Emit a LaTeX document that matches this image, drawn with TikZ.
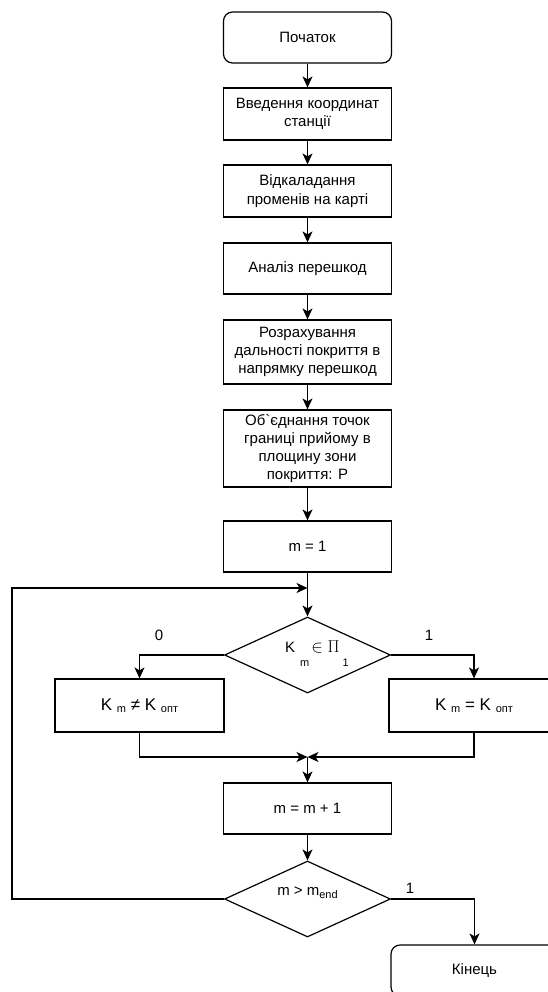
\documentclass[tikz,border=0pt]{standalone}
\usepackage{fontspec}
\setmainfont{Liberation Sans}
\usetikzlibrary{arrows.meta,shapes.geometric}
\tikzset{
  every node/.style={font=\fontsize{15}{18.3}\selectfont, text=black},
  box/.style={draw=black, line width=1.2pt, rectangle, minimum width=168pt, inner sep=0pt, align=center},
  term/.style={box, rounded corners=9pt},
  dec/.style={draw=black, line width=1.2pt, diamond, minimum width=166pt, minimum height=76pt, inner sep=0pt},
  conn/.style={draw=black, line width=1.2pt},
  arr/.style={conn, -{Stealth[length=11pt, width=10pt, inset=3pt]}},
  lbl/.style={inner sep=0pt},
  kbox/.style={box, font=\fontsize{17}{20}\selectfont},
}
\newcommand{\smsub}[1]{\raisebox{-2.5pt}{\fontsize{11}{12}\selectfont #1}}
\begin{document}
\begin{tikzpicture}[x=1pt,y=-1pt]
\useasboundingbox (0,0) rectangle (548,992);
\node[term, minimum height=51pt] (start) at (307.5,37.5) {Початок};
\node[box, minimum height=52pt] (b2) at (307.5,114) {Введення координат\\станції};
\node[box, minimum height=52pt] (b3) at (307.5,191) {Відкаладання\\променів на карті};
\node[box, minimum height=51pt] (b4) at (307.5,268.5) {Аналіз перешкод};
\node[box, minimum height=64pt] (b5) at (307.5,352) {Розрахування\\дальності покриття в\\напрямку перешкод};
\node[box, minimum height=77pt] (b6) at (307.5,448.5) {Об\textasciigrave єднання точок\\границі прийому в\\площину зони\\покриття: Р};
\node[box, minimum height=51pt] (m1) at (307.5,546.5) {m = 1};
\coordinate (join) at (307.5,588);
\node[dec] (d1) at (307.5,655) {};
\node[lbl, anchor=base west] (d1t) at (285,652.5) {K\hspace{5pt}\raisebox{-13.5pt}{\fontsize{11}{12}\selectfont m}\hspace{2pt}{\fontsize{17}{18}\selectfont$\in\Pi$}\hspace{3pt}\raisebox{-14pt}{\fontsize{11}{12}\selectfont 1}};
\node[kbox, minimum width=169pt, minimum height=53pt] (L) at (139.5,705.5) {K \smsub{m} ≠ K \smsub{опт}};
\node[kbox, minimum width=170pt, minimum height=53pt] (R) at (474,705.5) {K \smsub{m} = K \smsub{опт}};
\node[lbl] (l0) at (159,635) {0};
\node[lbl] (l1) at (429,635) {1};
\coordinate (merge) at (307.5,757);
\node[box, minimum height=51pt] (m2) at (307.5,808.5) {m = m + 1};
\node[dec] (d2) at (307.5,899) {};
\node[lbl, anchor=base] (d2t) at (307.5,895) {m > m\raisebox{-3pt}{\fontsize{11}{12}\selectfont end}};
\node[lbl] (l2) at (410,888) {1};
\node[term, minimum width=167pt, minimum height=51pt] (end) at (474.5,970.5) {Кінець};
\coordinate (lp) at (12,588);

\draw[arr] (start) -- (b2);
\draw[arr] (b2) -- (b3);
\draw[arr] (b3) -- (b4);
\draw[arr] (b4) -- (b5);
\draw[arr] (b5) -- (b6);
\draw[arr] (b6) -- (m1);
\draw[arr] (m1) -- (d1);
\draw[arr] (d1.west) -| (L.north);
\draw[arr] (d1.east) -| (R.north);
\draw[arr] (L.south) |- (merge);
\draw[arr] (R.south) |- (merge);
\draw[arr] (merge) -- (m2);
\draw[arr] (m2) -- (d2);
\draw[arr] (d2.west) -| (lp) -- (join);
\draw[arr] (d2.east) -| (end.north);
\end{tikzpicture}
\end{document}
